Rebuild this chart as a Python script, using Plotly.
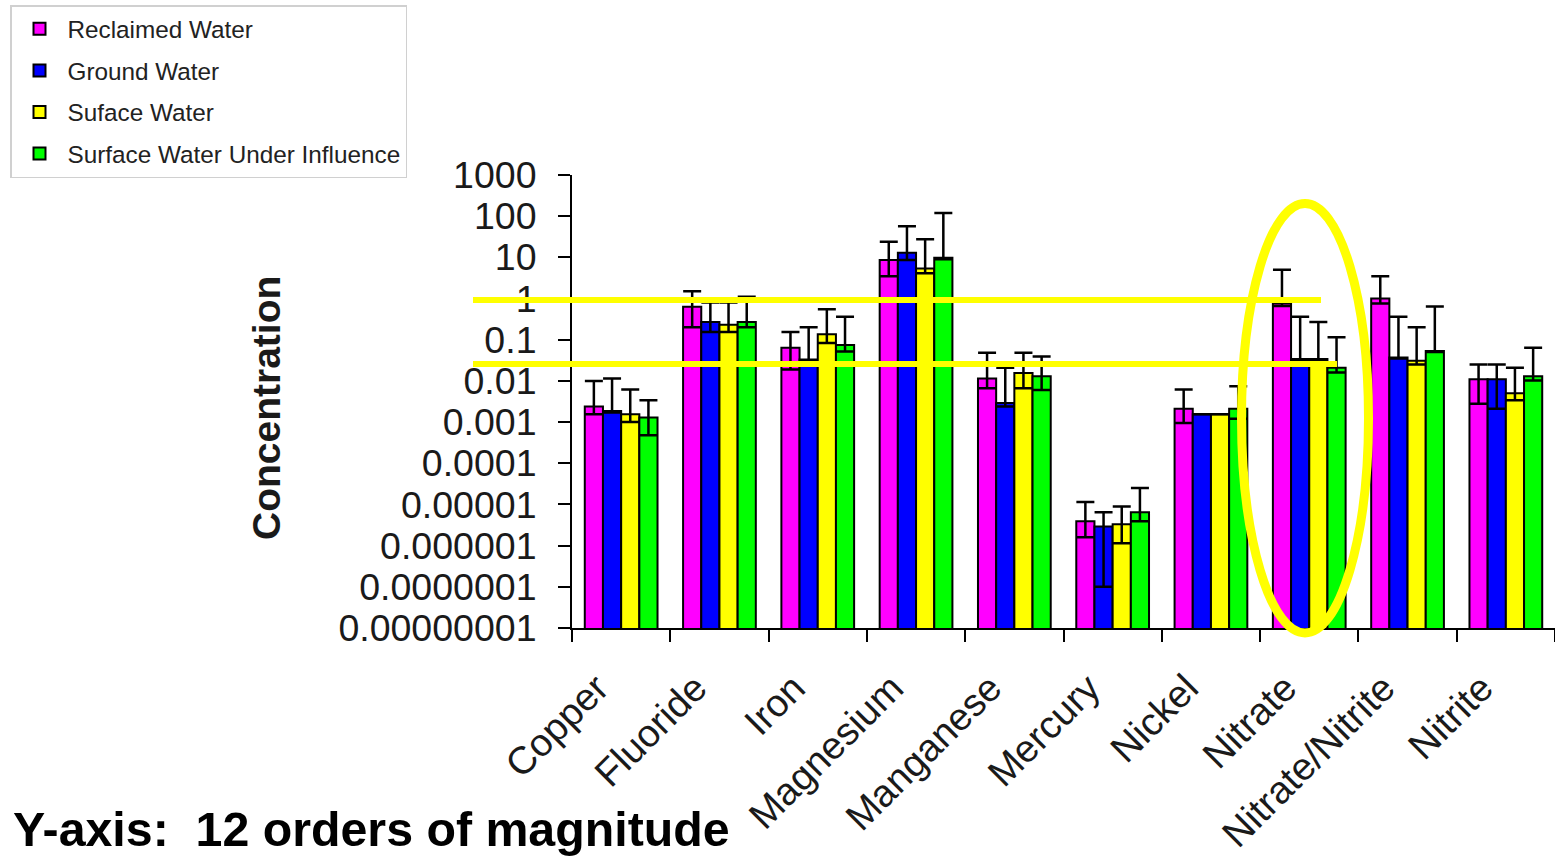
import plotly.graph_objects as go

categories = ["Copper", "Fluoride", "Iron", "Magnesium", "Manganese", "Mercury",
              "Nickel", "Nitrate", "Nitrate/Nitrite", "Nitrite"]

series_names = ["Reclaimed Water", "Ground Water", "Suface Water", "Surface Water Under Influence"]
series_colors = ["#FF00FF", "#0000FF", "#FFFF00", "#00FF00"]

reclaimed = [0.0024, 0.63, 0.064, 8.6, 0.0115, 3.9e-6, 0.0021, 0.76, 1.0, 0.011]
reclaimed_hi = [0.010, 1.5, 0.155, 24, 0.048, 1.15e-5, 0.0062, 5.0, 3.5, 0.025]
reclaimed_lo = [0.00155, 0.2, 0.019, 3.5, 0.0066, 1.6e-6, 0.00095, 0.66, 0.76, 0.0028]

ground = [0.00186, 0.27, 0.033, 13, 0.0029, 2.9e-6, 0.00155, 0.034, 0.037, 0.011]
ground_hi = [0.0115, 0.8, 0.2, 57, 0.021, 6.5e-6, 0.00155, 0.36, 0.36, 0.025]
ground_lo = [0.0017, 0.155, 0.03, 8.6, 0.0024, 1.0e-7, 0.00155, 0.031, 0.035, 0.0021]

surface = [0.00155, 0.23, 0.135, 5.4, 0.0155, 3.3e-6, 0.00155, 0.034, 0.031, 0.005]
surface_hi = [0.0062, 0.8, 0.55, 27.7, 0.048, 8.9e-6, 0.00155, 0.27, 0.2, 0.021]
surface_lo = [0.001, 0.155, 0.083, 4.1, 0.0066, 1.15e-6, 0.00155, 0.031, 0.025, 0.0034]

influence = [0.0013, 0.27, 0.074, 9.8, 0.013, 6.5e-6, 0.0021, 0.021, 0.053, 0.013]
influence_hi = [0.0034, 1.1, 0.36, 120, 0.039, 2.5e-5, 0.0074, 0.115, 0.64, 0.064]
influence_lo = [0.00048, 0.2, 0.052, 9.0, 0.006, 3.9e-6, 0.0012, 0.016, 0.05, 0.0103]

y_tickvals = [1e-8, 1e-7, 1e-6, 1e-5, 1e-4, 1e-3, 1e-2, 1e-1, 1, 10, 100, 1000]
y_ticktext = ["0.00000001", "0.0000001", "0.000001", "0.00001", "0.0001", "0.001",
              "0.01", "0.1", "1", "10", "100", "1000"]

FONT = "Liberation Sans, Arial, sans-serif"

W, H = 1555, 856
ML, MR, MT, MB = 572, 0, 175, 228
PW, PH = W - ML - MR, H - MT - MB


def px_x(px):
    return (px - ML) / PW


def px_y(py):
    return (H - MB - py) / PH


fig = go.Figure()
all_series = [
    (reclaimed, reclaimed_hi, reclaimed_lo),
    (ground, ground_hi, ground_lo),
    (surface, surface_hi, surface_lo),
    (influence, influence_hi, influence_lo),
]
for i, (vals, hi, lo) in enumerate(all_series):
    fig.add_trace(go.Bar(
        x=categories, y=vals, name=series_names[i], legendgroup=series_names[i],
        marker=dict(color=series_colors[i], line=dict(color="black", width=2)),
        error_y=dict(type="data", symmetric=False,
                     array=[h - v for h, v in zip(hi, vals)],
                     arrayminus=[v - l for v, l in zip(vals, lo)],
                     color="black", thickness=2.5, width=9),
    ))

fig.update_layout(
    width=W, height=H,
    margin=dict(l=ML, r=MR, t=MT, b=MB, autoexpand=False),
    paper_bgcolor="white", plot_bgcolor="white",
    barmode="group", bargap=0.26, bargroupgap=0,
    font=dict(family=FONT, color="#1a1a1a"),
    showlegend=True,
    legend=dict(x=px_x(10), y=px_y(5), xanchor="left", yanchor="top",
                bgcolor="white", bordercolor="#d0d0d0", borderwidth=1.5,
                font=dict(size=24.3, family=FONT, color="#222"),
                itemwidth=46, tracegroupgap=7, itemclick=False),
    xaxis=dict(showline=True, linecolor="black", linewidth=2, ticks="outside",
               tickson="boundaries", ticklen=12, tickwidth=2, tickcolor="black",
               tickangle=-45, tickfont=dict(size=38.5, family=FONT, color="#1a1a1a"),
               showgrid=False, range=[-0.5, 9.5], ticklabelstandoff=20,
               ticklabelshift=-24),
    yaxis=dict(type="log", range=[-8, 3], showline=True, linecolor="black", linewidth=2,
               ticks="outside", ticklen=12, tickwidth=2, tickcolor="black",
               tickvals=y_tickvals, ticktext=y_ticktext, showgrid=False, zeroline=False,
               tickfont=dict(size=37.5, family=FONT, color="#1a1a1a"), ticklabelstandoff=14),
)

# y-axis title
fig.add_annotation(text="<b>Concentration</b>", textangle=-90, xref="paper", yref="paper",
                   x=px_x(266), y=px_y(408), xanchor="center", yanchor="middle",
                   showarrow=False, font=dict(size=39, family=FONT, color="#1a1a1a"))
# bottom note
fig.add_annotation(text="<b>Y-axis:\u00a0 12 orders of magnitude</b>", xref="paper", yref="paper",
                   x=px_x(11), y=px_y(829), xanchor="left", yanchor="middle", showarrow=False,
                   font=dict(size=48.3, family=FONT, color="black"))

# yellow highlight lines and ellipse
fig.add_shape(type="line", xref="paper", yref="paper", x0=px_x(473), x1=px_x(1321),
              y0=px_y(300), y1=px_y(300), line=dict(color="#FFFF00", width=6))
fig.add_shape(type="line", xref="paper", yref="paper", x0=px_x(473), x1=px_x(1337),
              y0=px_y(364), y1=px_y(364), line=dict(color="#FFFF00", width=6))
fig.add_shape(type="circle", xref="paper", yref="paper", x0=px_x(1241.5), x1=px_x(1368.5),
              y0=px_y(633), y1=px_y(203.5), line=dict(color="#FFFF00", width=9))

fig.write_html("out.html", config={"displayModeBar": False},
               post_script="document.body.style.margin='0px';document.body.style.overflow='hidden';")
